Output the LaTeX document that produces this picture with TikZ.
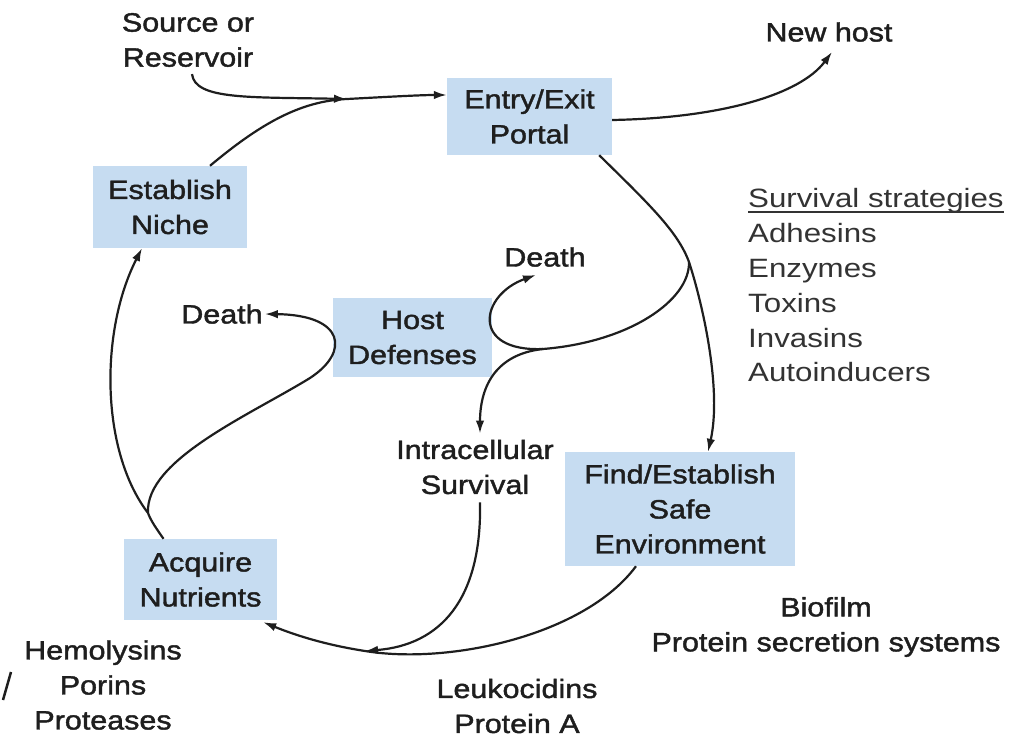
\documentclass[tikz,border=0pt]{standalone}
\usepackage{fontspec}
\setmainfont{Liberation Sans}[FakeStretch=1.18]
\newfontfamily\medfont{Liberation Sans}[FakeStretch=1.15, FakeBold=1.6]
\usetikzlibrary{arrows.meta}
\definecolor{boxblue}{HTML}{C6DCF1}
\definecolor{ink}{HTML}{1E1E1E}
\definecolor{listink}{HTML}{333333}
\begin{document}
\begin{tikzpicture}[x=1pt,y=-1pt,
  every node/.style={font=\medfont\fontsize{26.5}{35}\selectfont, text=ink},
  box/.style={fill=boxblue, inner sep=0pt, align=center},
  lbl/.style={inner sep=2pt, align=center},
  listitem/.style={inner sep=0pt, anchor=base west, text=listink, font=\rmfamily\fontsize{26.5}{35}\selectfont},
  conn/.style={draw=ink, line width=2.2pt},
  tip/.style={-{Latex[length=13pt,width=8.5pt]}}
]
\useasboundingbox (0,0) rectangle (1023,738);

% boxes
\node[box, minimum width=165pt, minimum height=77pt] (portal) at (529.5,116.5) {Entry/Exit\\Portal};
\node[box, minimum width=154pt, minimum height=82pt] (niche) at (170,207) {Establish\\Niche};
\node[box, minimum width=159pt, minimum height=79pt] (host) at (412.5,337.5) {Host\\Defenses};
\node[box, minimum width=153pt, minimum height=81pt] (acq) at (200.5,579.5) {Acquire\\Nutrients};
\node[box, minimum width=230pt, minimum height=114pt] (find) at (680,509) {Find/Establish\\Safe\\Environment};

% labels
\node[lbl] (src) at (188,40) {Source or\\Reservoir};
\node[lbl] (newhost) at (829,32) {New host};
\node[lbl] (death1) at (545,257) {Death};
\node[lbl] (death2) at (222,314) {Death};
\node[lbl] (intra) at (475,467) {Intracellular\\Survival};
\node[lbl] (bio) at (826,627) {Biofilm\\Protein secretion systems};
\node[lbl] (hemo) at (103,685) {Hemolysins\\Porins\\Proteases};
\node[lbl] (leuko) at (517,706) {Leukocidins\\Protein A};

% survival strategies list
\node[listitem] (ss) at (748,208) {Survival strategies};
\draw[listink, line width=1.2pt] ([yshift=-4pt]ss.base west) -- ([yshift=-4pt]ss.base east);
\node[listitem] (l1) at (748,243) {Adhesins};
\node[listitem] (l2) at (748,277) {Enzymes};
\node[listitem] (l3) at (748,312) {Toxins};
\node[listitem] (l4) at (748,347) {Invasins};
\node[listitem] (l5) at (748,381) {Autoinducers};

% junction coordinates
\coordinate (m1) at (347,99);
\coordinate (k1) at (689,262);
\coordinate (j1) at (543,349);
\coordinate (j2) at (148,513);
\coordinate (m2) at (365,651);

% connectors
\draw[conn, tip] ([xshift=4pt,yshift=-5pt]src.south) .. controls (195,100) and (250,97) .. (m1);
\draw[conn, tip] ([xshift=40pt]niche.north) .. controls (260,124) and (300,101) .. (m1)
   .. controls (385,97) and (420,95) .. ([yshift=21.5pt]portal.west);
\draw[conn, tip] ([yshift=-3.5pt]portal.east) .. controls (720,118) and (800,95) .. ([xshift=3pt,yshift=-8pt]newhost.south);
\draw[conn, tip] ([xshift=-13pt]portal.south east) .. controls (650,205) and (678,232) .. (k1)
   .. controls (703,305) and (722,390) .. ([xshift=28pt]find.north);
\draw[conn, tip] (k1) .. controls (690,300) and (630,342) .. (j1)
   .. controls (470,352) and (480,295) .. ([xshift=-9pt,yshift=-6pt]death1.south);
\draw[conn, tip] (j1) .. controls (497,354) and (480,385) .. ([xshift=5pt,yshift=4pt]intra.north);
\draw[conn, tip] ([xshift=5pt,yshift=-6pt]intra.south) .. controls (482,600) and (440,645) .. (m2);
\draw[conn, tip] ([xshift=-44pt]find.south) .. controls (585,635) and (450,665) .. (m2)
   .. controls (320,644) and (290,633) .. ([xshift=-14pt,yshift=-2pt]acq.south east);
\draw[conn, tip] ([xshift=-37pt]acq.north) .. controls (156,528) and (151,521) .. (j2)
   .. controls (100,450) and (100,330) .. ([xshift=-28pt]niche.south);
\draw[conn, tip] (j2) .. controls (145,460) and (250,415) .. (310,378)
   .. controls (350,352) and (345,315) .. (death2.east);

% edge mark at bottom left
\draw[ink, line width=2.5pt] (3,700) -- (11,672);
\end{tikzpicture}
\end{document}
